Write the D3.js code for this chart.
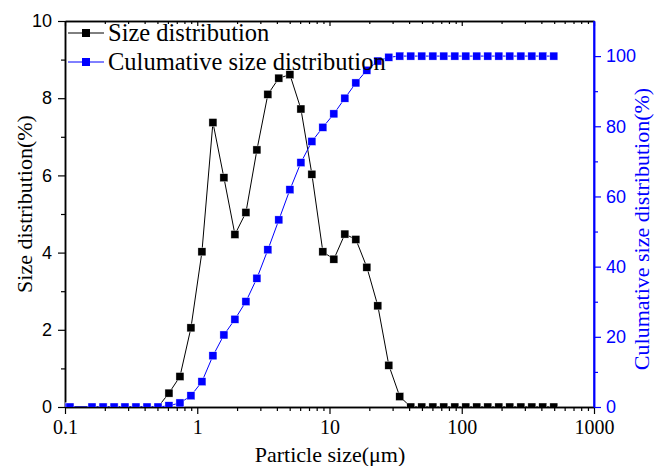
<!DOCTYPE html>
<html>
<head>
<meta charset="utf-8">
<script src="https://cdn.jsdelivr.net/npm/d3@7/dist/d3.min.js"></script>
<style>
  body { margin: 0; background: #fff; }
  .serif { font-family: "Liberation Serif", "Times New Roman", serif; }
  .sans { font-family: "Liberation Sans", Arial, sans-serif; }
</style>
</head>
<body>
<script>
// particle sizes (um)
const sizes = [0.1, 0.109, 0.160, 0.194, 0.235, 0.284, 0.344, 0.417, 0.505, 0.611,
  0.740, 0.896, 1.085, 1.314, 1.591, 1.927, 2.334, 2.826, 3.42, 4.14,
  5.02, 6.08, 7.36, 8.91, 10.79, 13.07, 15.83, 19.17, 23.2, 28.1,
  34.0, 41.2, 49.9, 60.5, 73.2, 88.7, 107.4, 130, 157.5, 190.8,
  231, 280, 339, 410, 497];
// size distribution (%)
const sizeDist = [0, 0, 0, 0, 0, 0, 0, 0, 0, 0.36,
  0.79, 2.05, 4.02, 7.37, 5.94, 4.47, 5.04, 6.66, 8.10, 8.52,
  8.61, 7.72, 6.03, 4.02, 3.83, 4.48, 4.34, 3.62, 2.62, 1.08,
  0.27, 0, 0, 0, 0, 0, 0, 0, 0, 0,
  0, 0, 0, 0, 0];
// culumative size distribution (%)
const cumDist = [0, 0, 0, 0, 0, 0, 0, 0, 0, 0.36,
  1.15, 3.2, 7.22, 14.59, 20.53, 25.0, 30.04, 36.7, 44.8, 53.32,
  61.93, 69.65, 75.68, 79.7, 83.53, 88.01, 92.35, 95.97, 98.59, 99.67,
  100, 100, 100, 100, 100, 100, 100, 100, 100, 100,
  100, 100, 100, 100, 100];

const xTicks = [0.1, 1, 10, 100, 1000];
const xLabels = ["0.1", "1", "10", "100", "1000"];
const leftTicks = [0, 2, 4, 6, 8, 10];
const leftMinor = [1, 3, 5, 7, 9];
const rightTicks = [0, 20, 40, 60, 80, 100];
const rightMinor = [10, 30, 50, 70, 90];

const BLUE = "#0000ff";
let width = 656, height = 466;
let L = 65, R = 594, T = 21, B = 407;

let svg = d3.select("body").append("svg").attr("width", width).attr("height", height);

let x = d3.scaleLog().domain([0.1, 1000]).range([L, R]);
let yL = d3.scaleLinear().domain([0, 10]).range([B, T]);
let yR = d3.scaleLinear().domain([0, 110]).range([B, T]);

let xMinor = [];
[0.1, 1, 10, 100].forEach(function (d) {
    for (let k = 2; k <= 9; k++) xMinor.push(d * k);
});

svg.append("clipPath").attr("id", "plot")
    .append("rect").attr("x", L).attr("y", T).attr("width", R - L).attr("height", B - T);

// axes
function styleAxis(g, color) {
    g.select(".domain").attr("stroke", color).attr("stroke-width", 1.5);
    g.selectAll(".tick line").attr("stroke", color).attr("stroke-width", 1.2);
}

let gx = svg.append("g").attr("transform", `translate(0,${B})`)
    .call(d3.axisBottom(x).tickValues(xTicks).tickFormat((d, i) => xLabels[i]).tickSize(7).tickSizeOuter(0).tickPadding(6));
styleAxis(gx, "#000");
gx.selectAll("text").attr("class", "serif").attr("font-size", 20).attr("fill", "#000");
svg.append("g").attr("transform", `translate(0,${B})`)
    .call(d3.axisBottom(x).tickValues(xMinor).tickFormat("").tickSize(4).tickSizeOuter(0))
    .call(g => styleAxis(g, "#000"));

let gt = svg.append("g").attr("transform", `translate(0,${T})`)
    .call(d3.axisBottom(x).tickValues(xTicks).tickFormat("").tickSize(5).tickSizeOuter(0));
styleAxis(gt, "#000");
svg.append("g").attr("transform", `translate(0,${T})`)
    .call(d3.axisBottom(x).tickValues(xMinor).tickFormat("").tickSize(3).tickSizeOuter(0))
    .call(g => styleAxis(g, "#000"));

let gl = svg.append("g").attr("transform", `translate(${L},0)`)
    .call(d3.axisLeft(yL).tickValues(leftTicks).tickFormat(d3.format("d")).tickSize(7).tickSizeOuter(0).tickPadding(6));
styleAxis(gl, "#000");
gl.selectAll("text").attr("class", "sans").attr("font-size", 18).attr("fill", "#000");
svg.append("g").attr("transform", `translate(${L},0)`)
    .call(d3.axisLeft(yL).tickValues(leftMinor).tickFormat("").tickSize(4).tickSizeOuter(0))
    .call(g => styleAxis(g, "#000"));

let gr = svg.append("g").attr("transform", `translate(${R},0)`)
    .call(d3.axisRight(yR).tickValues(rightTicks).tickFormat(d3.format("d")).tickSize(7).tickSizeOuter(0).tickPadding(5));
styleAxis(gr, BLUE);
gr.selectAll("text").attr("class", "sans").attr("font-size", 18).attr("fill", BLUE);
svg.append("g").attr("transform", `translate(${R},0)`)
    .call(d3.axisRight(yR).tickValues(rightMinor).tickFormat("").tickSize(4).tickSizeOuter(0))
    .call(g => styleAxis(g, BLUE));
svg.append("line").attr("x1", R).attr("x2", R).attr("y1", T).attr("y2", B)
    .attr("stroke", BLUE).attr("stroke-width", 1.5);

// series
let plot = svg.append("g").attr("clip-path", "url(#plot)");
let rows = sizes.map((s, i) => ({ s: s, a: sizeDist[i], c: cumDist[i] }));

function series(acc, scale, color) {
    plot.append("path").datum(rows)
        .attr("d", d3.line().x(d => x(d.s)).y(d => scale(acc(d))))
        .attr("fill", "none").attr("stroke", color).attr("stroke-width", 1);
    plot.append("g").selectAll("rect").data(rows).join("rect")
        .attr("x", d => x(d.s) - 4).attr("y", d => scale(acc(d)) - 4)
        .attr("width", 8).attr("height", 8)
        .attr("fill", color).attr("stroke", "#fff").attr("stroke-width", 0.4);
}
series(d => d.a, yL, "#000");
series(d => d.c, yR, BLUE);

// legend
let legend = [
    { name: "Size distribution", color: "#000", y: 33, base: 41 },
    { name: "Culumative size distribution", color: BLUE, y: 62, base: 70 }
];
let lg = svg.append("g").selectAll("g").data(legend).join("g");
lg.append("line").attr("x1", 68).attr("x2", 104).attr("y1", d => d.y).attr("y2", d => d.y)
    .attr("stroke", d => d.color).attr("stroke-width", 1);
lg.append("rect").attr("x", 82).attr("y", d => d.y - 4).attr("width", 8).attr("height", 8)
    .attr("fill", d => d.color);
lg.append("text").attr("class", "serif").attr("x", 108).attr("y", d => d.base)
    .attr("font-size", 24.5).attr("fill", "#000").text(d => d.name);

// axis titles
svg.append("text").attr("class", "serif").attr("font-size", 22)
    .attr("text-anchor", "middle").attr("x", 330).attr("y", 462)
    .text("Particle size(\u03bcm)");
svg.append("text").attr("class", "serif").attr("font-size", 22)
    .attr("text-anchor", "middle").attr("transform", "translate(32,204) rotate(-90)")
    .text("Size distribution(%)");
svg.append("text").attr("class", "serif").attr("font-size", 22).attr("fill", BLUE)
    .attr("text-anchor", "middle").attr("transform", "translate(649,229) rotate(-90)")
    .text("Culumative size distribution(%)");
</script>
</body>
</html>
